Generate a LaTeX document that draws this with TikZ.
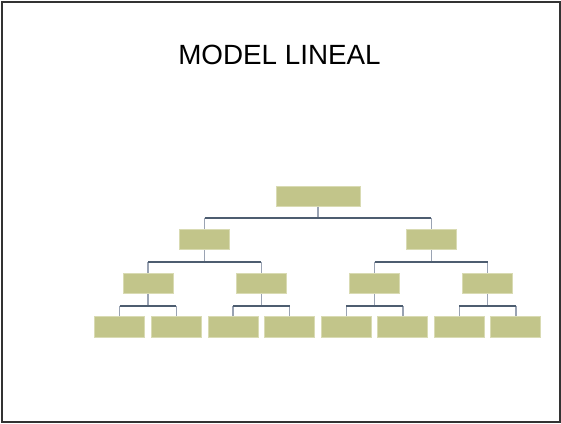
\documentclass[tikz,border=0pt]{standalone}
\usepackage{fontspec}
\setmainfont{Liberation Sans}
\definecolor{boxfill}{HTML}{C2C58A}
\definecolor{boxedge}{HTML}{D9DBB3}
\definecolor{hcol}{HTML}{4D5D70}
\definecolor{vcol}{HTML}{9AA3B3}
\definecolor{framecol}{HTML}{333333}
\begin{document}
\begin{tikzpicture}[x=1pt,y=-1pt,
  orgbox/.style={draw=boxedge,line width=1pt,fill=boxfill,minimum width=50pt,minimum height=20.5pt,inner sep=0pt},
  topbox/.style={orgbox,minimum width=84pt,minimum height=20pt},
  hline/.style={draw=hcol,line width=1.8pt},
  vline/.style={draw=vcol,line width=1.4pt}]
\useasboundingbox (0,0) rectangle (561,423);
\draw[framecol,line width=2pt] (1.5,1.5) rectangle (559.5,421.5);
\node[font=\fontsize{27.8}{30}\selectfont,inner sep=0pt] (title) at (279.5,54.5) {MODEL LINEAL};
% bar levels
\coordinate (b1) at (0,217.7);
\coordinate (b2) at (0,261.7);
\coordinate (b3) at (0,305.7);
% boxes
\node[topbox] (t) at (318,196) {};
\node[orgbox] (a) at (204.6,239.7) {};
\node[orgbox] (b) at (431.2,239.7) {};
\node[orgbox] (aa) at (148.1,283.7) {};
\node[orgbox] (ab) at (261.4,283.7) {};
\node[orgbox] (ba) at (374.6,283.7) {};
\node[orgbox] (bb) at (487.6,283.7) {};
\node[orgbox] (aaa) at (119.7,327.2) {};
\node[orgbox] (aab) at (176.3,327.2) {};
\node[orgbox] (aba) at (233.1,327.2) {};
\node[orgbox] (abb) at (289.6,327.2) {};
\node[orgbox] (baa) at (346.3,327.2) {};
\node[orgbox] (bab) at (402.9,327.2) {};
\node[orgbox] (bba) at (459.4,327.2) {};
\node[orgbox] (bbb) at (515.8,327.2) {};
% level 1 connectors
\draw[vline] (t.south) -- (t.south |- b1);
\draw[vline] (a.north) -- (a.north |- b1);
\draw[vline] (b.north) -- (b.north |- b1);
\draw[hline] (a.north |- b1) -- (b.north |- b1);
% level 2 connectors
\foreach \p/\l/\r in {a/aa/ab,b/ba/bb}{
  \draw[vline] (\p.south) -- (\p.south |- b2);
  \draw[vline] (\l.north) -- (\l.north |- b2);
  \draw[vline] (\r.north) -- (\r.north |- b2);
  \draw[hline] (\l.north |- b2) -- (\r.north |- b2);
}
% level 3 connectors
\foreach \p/\l/\r in {aa/aaa/aab,ab/aba/abb,ba/baa/bab,bb/bba/bbb}{
  \draw[vline] (\p.south) -- (\p.south |- b3);
  \draw[vline] (\l.north) -- (\l.north |- b3);
  \draw[vline] (\r.north) -- (\r.north |- b3);
  \draw[hline] (\l.north |- b3) -- (\r.north |- b3);
}
\end{tikzpicture}
\end{document}
